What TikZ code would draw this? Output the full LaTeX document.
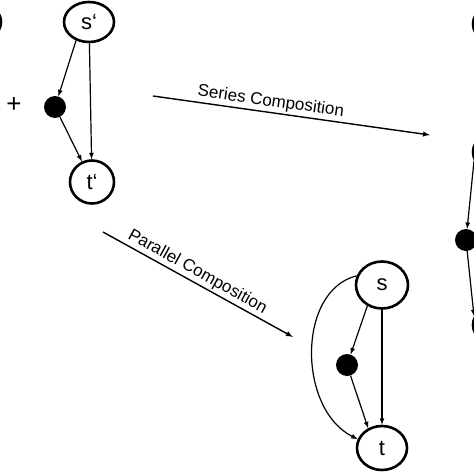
\documentclass[tikz,border=0pt]{standalone}
\usepackage{fontspec}
\setmainfont{Liberation Sans}
\usetikzlibrary{shapes.geometric}

\begin{document}
\begin{tikzpicture}[x=1pt, y=-1pt, >=latex,
    every node/.style={font=\fontsize{22}{26}\selectfont},
    vertex/.style={ellipse, draw, line width=2.6pt, inner sep=0pt, minimum width=50pt, minimum height=40pt},
    blob/.style={circle, fill=black, inner sep=0pt, minimum size=22pt},
    arc/.style={->, line width=1.2pt},
    comp/.style={->, line width=1.4pt},
    complabel/.style={font=\fontsize{17}{20}\selectfont, inner sep=2pt}]

	\useasboundingbox (0,0) rectangle (474,474);
	\clip (0,0) rectangle (474,474);

	% first operand, mostly off the picture
	\node[vertex] (s0) at (-24,22) {};
	\node[font=\fontsize{26}{30}\selectfont] (plus) at (14,105) {+};

	% second operand
	\node[vertex] (sp) at (89,22) {s‘};
	\node[blob] (dp) at (55,107) {};
	\node[vertex, minimum width=44pt, minimum height=43pt] (tp) at (92,182) {t‘};

	\draw[arc] (sp.235) -- (dp);
	\draw[arc] (sp) -- (tp);
	\draw[arc] (dp) -- (tp);

	% compositions
	\coordinate (ser0) at (153,96);
	\coordinate (ser1) at (430,135);
	\coordinate (par0) at (103,232);
	\coordinate (par1) at (293,337);
	\draw[comp] (ser0) -- node[pos=.42, above, sloped, complabel] {Series Composition} (ser1);
	\draw[comp] (par0) -- node[pos=.47, above, sloped, complabel] {Parallel Composition} (par1);

	% series result, cut off at the right
	\node[vertex] (r1) at (498,24) {};
	\node[vertex] (r2) at (498,152) {};
	\node[blob] (rd) at (466,240) {};
	\node[vertex] (r3) at (498,325) {};
	\draw[arc] (r2.200) -- (rd);
	\draw[arc] (rd) -- (r3.160);

	% parallel result
	\node[vertex, minimum width=52pt, minimum height=47pt] (s) at (382,285) {s};
	\node[blob] (d) at (347,365) {};
	\node[vertex, minimum width=50pt, minimum height=44pt] (t) at (382,448) {t};

	\draw[arc] (s.235) -- (d);
	\draw[arc] (s) -- (t);
	\draw[arc] (d) -- (t.125);
	\draw[arc] (s.160) .. controls +(-60,15) and +(-60,-30) .. (t.160);
\end{tikzpicture}
\end{document}
